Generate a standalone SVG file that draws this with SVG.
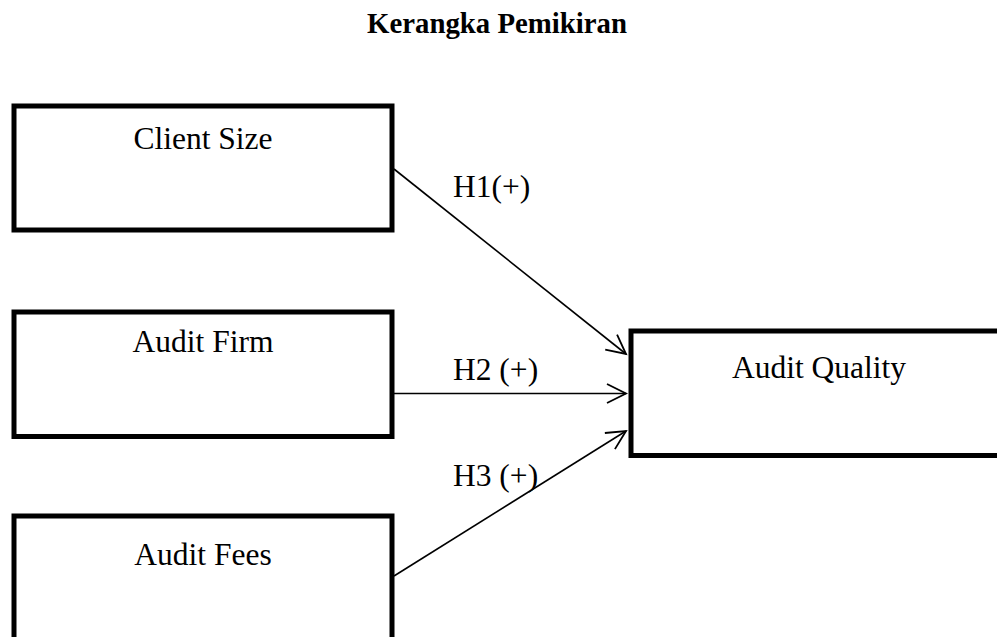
<svg xmlns="http://www.w3.org/2000/svg" width="997" height="637" viewBox="0 0 997 637">
<style>
.box{fill:#fff;stroke:#000;stroke-width:5}
.t{font-family:"Liberation Serif","Times New Roman",serif;font-size:31.5px;fill:#000}
.title{font-family:"Liberation Serif","Times New Roman",serif;font-size:28.8px;font-weight:bold;fill:#000}
.c{stroke:#000;stroke-width:1.6;fill:none}
</style>
<defs>
<marker id="arr" markerUnits="userSpaceOnUse" viewBox="-22 -12 24 24" refX="0" refY="0" markerWidth="24" markerHeight="24" orient="auto" overflow="visible">
<path d="M-19,-9.5 L0,0 L-19,9.5" fill="none" stroke="#000" stroke-width="1.8"/>
</marker>
</defs>
<rect width="997" height="637" fill="#fff"/>
<text class="title" x="497" y="33" text-anchor="middle">Kerangka Pemikiran</text>
<g id="client-size">
<rect class="box" x="14" y="106" width="378" height="124"/>
<text class="t" x="203" y="149" text-anchor="middle">Client Size</text>
</g>
<g id="audit-firm">
<rect class="box" x="14" y="312" width="378" height="124.5"/>
<text class="t" x="203" y="352" text-anchor="middle">Audit Firm</text>
</g>
<g id="audit-fees">
<rect class="box" x="14" y="516" width="378" height="140"/>
<text class="t" x="203" y="565" text-anchor="middle">Audit Fees</text>
</g>
<g id="audit-quality">
<rect class="box" x="631" y="331" width="380" height="124.5"/>
<text class="t" x="819" y="378" text-anchor="middle">Audit Quality</text>
</g>
<g id="connectors">
<line class="c" x1="394" y1="169" x2="626" y2="354" marker-end="url(#arr)"/>
<line class="c" x1="394" y1="393.5" x2="626" y2="393.5" marker-end="url(#arr)"/>
<line class="c" x1="394" y1="576" x2="626" y2="431" marker-end="url(#arr)"/>
<text class="t" x="453" y="197">H1(+)</text>
<text class="t" x="453" y="380">H2 (+)</text>
<text class="t" x="453" y="486">H3 (+)</text>
</g>
</svg>
